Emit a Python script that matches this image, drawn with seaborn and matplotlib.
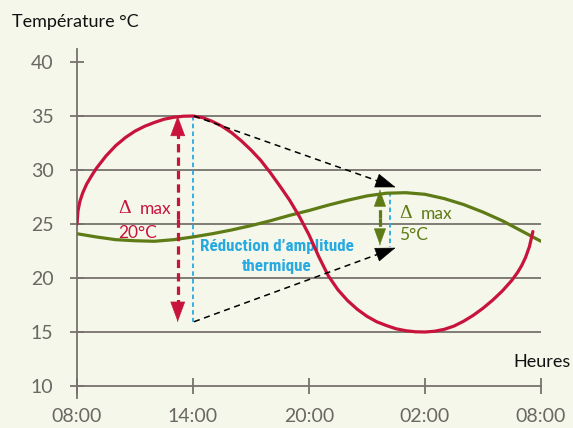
import matplotlib
matplotlib.use("Agg")
import matplotlib.pyplot as plt
import seaborn as sns
import pandas as pd
from matplotlib import font_manager

# ---------------- data ----------------
red_hours = [0.0, 0.05, 0.15, 0.3, 0.5, 0.75, 1.0, 1.5, 2.0, 2.5, 3.0, 3.5, 4.0, 4.5,
             5.0, 5.5, 6.0, 6.5, 7.0, 7.5, 8.0, 8.5, 9.0, 9.5, 10.0, 10.5, 11.0, 11.5,
             12.0, 12.5, 13.0, 13.5, 14.0, 14.5, 15.0, 15.5, 16.0, 16.5, 17.0, 17.5,
             18.0, 18.5, 19.0, 19.5, 20.0, 20.5, 21.0, 21.5, 22.0, 22.5, 22.8, 23.0,
             23.2, 23.4, 23.58]
red_temps = [25.0, 26.2, 27.1, 27.9, 28.7, 29.45, 30.15, 31.3, 32.25, 33.0, 33.6, 34.05,
             34.4, 34.7, 34.88, 34.98, 35.0, 34.85, 34.5, 34.05, 33.45, 32.7, 31.85,
             30.9, 29.75, 28.5, 27.2, 25.7, 24.0, 22.0, 20.2, 18.9, 17.9, 17.1, 16.45,
             15.95, 15.6, 15.3, 15.12, 15.02, 15.0, 15.07, 15.25, 15.55, 16.0, 16.55,
             17.2, 17.95, 18.8, 19.8, 20.55, 21.15, 21.9, 22.9, 24.3]

green_hours = list(range(0, 25))
green_temps = [24.1, 23.8, 23.55, 23.45, 23.4, 23.55, 23.8, 24.1, 24.45, 24.85, 25.3,
               25.8, 26.25, 26.75, 27.2, 27.6, 27.85, 27.9, 27.75, 27.35, 26.8, 26.1,
               25.3, 24.35, 23.4]

tick_hours = [0, 6, 12, 18, 24]
tick_labels = ["08:00", "14:00", "20:00", "02:00", "08:00"]
y_ticks = [10, 15, 20, 25, 30, 35, 40]
grid_levels = [15, 20, 25, 30, 35]

# ---------------- style ----------------
bg = "#f4f7e9"
gray = "#76716c"
red = "#c8143c"
green = "#5e7b16"
cyan = "#27aae1"

sns.set_theme(style="white")
names = {f.name for f in font_manager.fontManager.ttflist}
cond = [n for n in ["Liberation Sans Narrow", "Roboto Condensed", "DejaVu Sans Condensed"]
        if n in names]
narrow_font = cond[0] if cond else "DejaVu Sans"
main_font = "Lato" if "Lato" in names else "DejaVu Sans"
plt.rcParams["font.family"] = [main_font, "DejaVu Sans"]

fig = plt.figure(figsize=(5.73, 4.28), dpi=100, facecolor=bg)
ax = fig.add_axes([77 / 573, 30 / 428, 464 / 573, 349 / 428])
ax.set_facecolor(bg)

# grid
ax.hlines(grid_levels, 0, 24, color=gray, lw=1.3, zorder=1)

# curves
df_r = pd.DataFrame({"h": red_hours, "t": red_temps})
df_g = pd.DataFrame({"h": green_hours, "t": green_temps})
sns.lineplot(data=df_g, x="h", y="t", color=green, lw=2.3, ax=ax, zorder=3)
sns.lineplot(data=df_r, x="h", y="t", color=red, lw=2.3, ax=ax, zorder=4)

ax.set_xlim(0, 24)
ax.set_ylim(8.889, 41.204)

for s in ["top", "right"]:
    ax.spines[s].set_visible(False)
ax.spines["bottom"].set_position(("data", 10))
for s in ["left", "bottom"]:
    ax.spines[s].set_color(gray)
    ax.spines[s].set_linewidth(1.3)

ax.set_xticks(tick_hours)
ax.set_xticklabels(tick_labels)
ax.set_yticks(y_ticks)
ax.set_yticklabels([str(v) for v in y_ticks])
ax.tick_params(axis="both", direction="inout", color=gray, width=1.3,
               labelcolor="#6b6763", labelsize=14, bottom=True, left=True)
ax.tick_params(axis="x", length=12.2, pad=10)
ax.tick_params(axis="y", length=10, pad=12)
ax.set_xlabel("")
ax.set_ylabel("")


def arrow(p0, p1, color, lw, dash, hl, hw, frac):
    """dashed shaft from p0 to p1 with a solid filled head at p1"""
    x0, y0 = p0
    x1, y1 = p1
    xs = x1 - (x1 - x0) * frac
    ys = y1 - (y1 - y0) * frac
    ax.plot([x0, xs], [y0, ys], color=color, lw=lw, ls=dash, zorder=5,
            solid_capstyle="butt", dash_capstyle="butt")
    xt = x1 - (x1 - x0) * 0.01
    yt = y1 - (y1 - y0) * 0.01
    ax.annotate("", xy=(x1, y1), xytext=(xt, yt),
                arrowprops=dict(arrowstyle=f"-|>,head_length={hl},head_width={hw}",
                                color=color, lw=0.5, shrinkA=0, shrinkB=0,
                                mutation_scale=1),
                zorder=6)


# cyan dotted verticals
ax.plot([6.02, 6.02], [35.0, 15.95], color=cyan, lw=1.3, ls=(0, (2.5, 1.8)), zorder=2)
ax.plot([16.2, 16.2], [28.0, 22.9], color=cyan, lw=1.3, ls=(0, (2.5, 1.8)), zorder=2)

red_dash = (0, (2.6, 1.6))
# red delta arrow
arrow((5.21, 25.5), (5.21, 35.0), red, 2.3, red_dash, 13.5, 5, 0.1)
arrow((5.21, 25.5), (5.21, 15.95), red, 2.3, red_dash, 13.5, 5, 0.1)
# green delta arrow
arrow((15.67, 25.6), (15.67, 28.15), green, 2.3, red_dash, 11, 4, 0.3)
arrow((15.67, 25.6), (15.67, 23.05), green, 2.3, red_dash, 11, 4, 0.3)
# black reduction arrows
arrow((6.05, 35.0), (16.48, 28.4), "black", 1.1, (0, (4, 3)), 13.5, 4.8, 0.05)
arrow((6.05, 15.95), (16.48, 22.8), "black", 1.1, (0, (4, 3)), 13.5, 4.8, 0.05)

# annotations
serif = ["Liberation Serif", "DejaVu Serif"]
ax.text(2.45, 26.44, "Δ", color=red, fontsize=14, ha="center", va="center", family=serif)
ax.text(4.05, 26.39, "max", color=red, fontsize=12.5, ha="center", va="center")
ax.text(3.13, 24.21, "20°C", color=red, fontsize=12.5, ha="center", va="center")
ax.text(16.98, 25.97, "Δ", color=green, fontsize=14, ha="center", va="center", family=serif)
ax.text(18.6, 25.93, "max", color=green, fontsize=12.5, ha="center", va="center")
ax.text(17.41, 23.94, "5°C", color=green, fontsize=12.5, ha="center", va="center")
ax.text(10.32, 22.96, "Réduction d’amplitude", color=cyan, fontsize=12.3, ha="center",
        va="center", fontweight="bold", family=[narrow_font, "DejaVu Sans"])
ax.text(10.34, 21.06, "thermique", color=cyan, fontsize=12.3, ha="center",
        va="center", fontweight="bold", family=[narrow_font, "DejaVu Sans"])
ax.text(24.03, 12.22, "Heures", color="#111111", fontsize=13, ha="center", va="center")
fig.text(12 / 573, 1 - 22 / 428, "Température °C", color="#111111", fontsize=13,
         ha="left", va="center")

fig.savefig("out.png", dpi=100, facecolor=bg)
